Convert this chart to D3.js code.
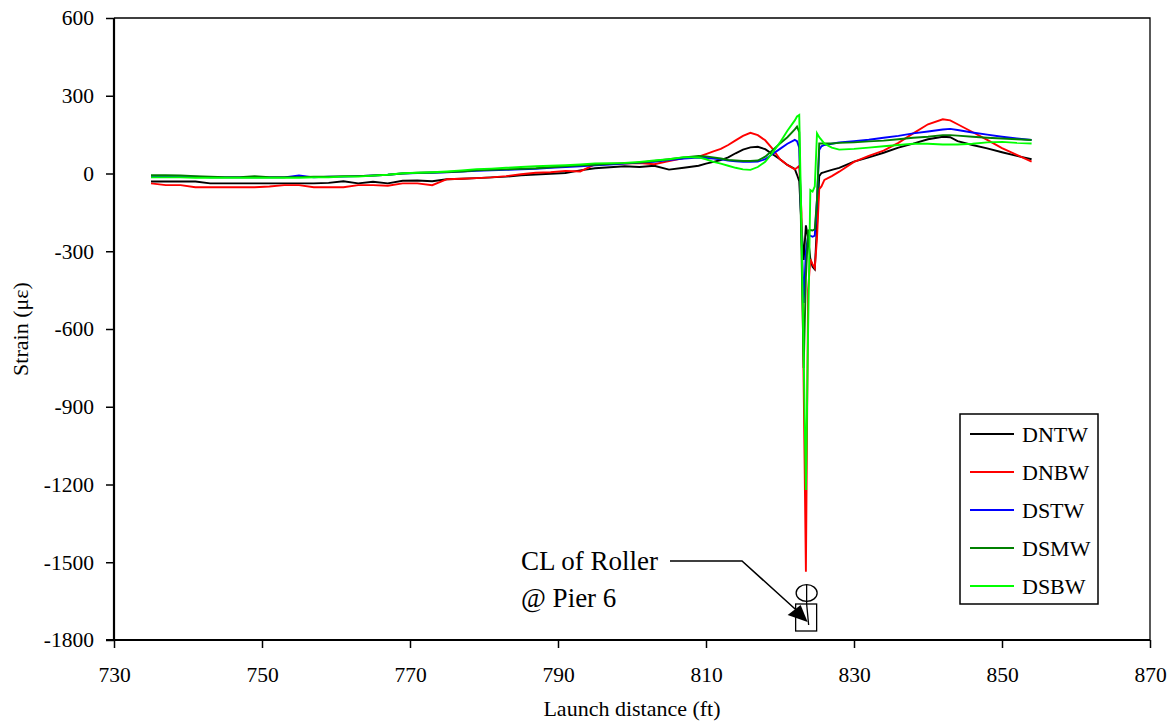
<!DOCTYPE html>
<html>
<head>
<meta charset="utf-8">
<script src="https://cdn.jsdelivr.net/npm/d3@7/dist/d3.min.js"></script>
<style>
  html, body { margin: 0; padding: 0; background: #fff; }
  svg { display: block; }
</style>
</head>
<body>
<svg id="chart" width="1176" height="723"></svg>
<script>
// ---------------- data ----------------
const launchDistance = [
  735,737,739,741,743,745,747,749,751,753,755,757,759,761,763,765,767,769,771,773,
  775,777,779,781,783,785,787,789,791,793,795,797,799,801,803,805,807,809,
  810,811,812,813,814,815,816,817,818,819,820,821,822,
  822.3,822.6,822.9,823.2,823.5,823.8,824.1,824.4,824.7,825.0,825.3,825.6,
  826,827,828,
  830,832,834,836,838,840,842,
  843,
  844,846,848,850,852,854
];

const DNTW = [
  -31,-31,-31,-31,-38,-38,-38,-38,-38,-38,-38,-38,-36,-30,-38,-32,-38,-28,-27,-30,
  -22,-20,-18,-15,-12,-7,-4,-1,2,12,20,24,28,25,30,15,22,30,
  38,45,52,62,78,92,101,103,94,74,55,33,18,
  -5,-30,-200,-334,-200,-250,-330,-360,-370,-200,-10,2,
  5,14,22,
  46,62,80,100,115,132,142,
  140,
  125,110,97,82,68,55
];

const DNBW = [
  -38,-45,-45,-53,-53,-53,-53,-53,-50,-45,-45,-53,-53,-53,-45,-45,-47,-38,-38,-45,
  -22,-20,-18,-15,-10,-3,3,5,10,8,35,36,38,40,36,48,60,65,
  75,85,95,110,128,145,157,148,128,95,55,33,16,
  22,29,-150,-820,-1537,-450,-330,-350,-365,-250,-60,-50,
  -25,-10,7,
  45,68,88,118,155,190,209,
  205,
  190,160,130,98,72,46
];

const DSTW = [
  -10,-10,-12,-12,-15,-15,-15,-15,-15,-15,-8,-15,-12,-12,-10,-8,-5,0,2,3,
  5,8,10,12,14,16,18,22,25,28,32,35,38,42,45,52,58,62,
  60,58,55,50,47,45,45,46,55,75,95,115,130,
  125,100,-230,-500,-300,-240,-240,-244,-240,-100,91,105,
  110,115,120,
  125,130,138,145,155,162,170,
  172,
  168,158,150,142,135,129
];

const DSMW = [
  -7,-7,-8,-10,-12,-14,-14,-10,-14,-14,-14,-12,-12,-10,-10,-8,-5,0,3,4,
  6,8,12,14,16,18,20,24,28,32,34,37,40,42,48,55,62,68,
  66,62,58,52,50,48,48,50,65,90,116,140,170,
  181,160,-300,-750,-400,-220,-218,-220,-215,-100,116,116,
  116,116,118,
  120,124,127,132,138,142,148,
  148,
  146,142,138,135,132,129
];

const DSBW = [
  -15,-15,-15,-17,-17,-17,-17,-17,-17,-17,-17,-15,-15,-12,-12,-8,-5,1,3,5,
  8,12,17,19,22,25,28,30,32,35,39,40,41,45,50,55,63,62,
  55,45,38,30,22,16,14,25,45,80,120,165,205,
  220,226,-200,-700,-1221,-600,-64,-70,-50,155,140,130,
  115,100,92,
  95,100,105,110,115,115,112,
  112,
  112,115,120,122,118,116
];

const seriesNames = ["DNTW", "DNBW", "DSTW", "DSMW", "DSBW"];
const seriesValues = [DNTW, DNBW, DSTW, DSMW, DSBW];
const seriesColors = ["#000000", "#ff0000", "#0000ff", "#008000", "#00ff00"];

const xTicks = [730, 750, 770, 790, 810, 830, 850, 870];
const yTicks = [600, 300, 0, -300, -600, -900, -1200, -1500, -1800];
const annotationLines = ["CL of Roller", "@ Pier 6"];
const rollerX = 823.6;   // ft, centre line of roller

// ---------------- layout ----------------
const FONT = "Liberation Serif";
const svg = d3.select("#chart");
const pL = 114, pR = 1150, pT = 18, pB = 640;

const x = d3.scaleLinear().domain([730, 870]).range([pL, pR]);
const y = d3.scaleLinear().domain([-1800, 600]).range([pB, pT]);

function txt(sel, size) {
  return sel.attr("font-family", FONT).style("font-family", FONT)
    .style("font-size", size + "px").attr("fill", "#000");
}

// frame (top / right)
svg.append("path")
  .attr("d", `M${pL},${pT}H${pR}V${pB}`)
  .attr("fill", "none").attr("stroke", "#000").attr("stroke-width", 1.3);

// axes
const yAxis = svg.append("g").attr("transform", `translate(${pL},0)`)
  .call(d3.axisLeft(y).tickValues(yTicks).tickFormat(d => String(d)).tickSize(8).tickPadding(12));
const xAxis = svg.append("g").attr("transform", `translate(0,${pB})`)
  .call(d3.axisBottom(x).tickValues(xTicks).tickFormat(d => String(d)).tickSize(8).tickPadding(18.5));

[yAxis, xAxis].forEach(g => {
  g.attr("font-family", FONT);
  g.select(".domain").attr("stroke", "#000").attr("stroke-width", 2.2);
  g.selectAll(".tick line").attr("stroke", "#000").attr("stroke-width", 1.5);
  txt(g.selectAll(".tick text"), 21.5);
});
yAxis.select(".domain").attr("d", `M0,${pT}V${pB}`);
xAxis.select(".domain").attr("d", `M${pL - 8},0H${pR}`);

// axis titles
txt(svg.append("text"), 22)
  .attr("x", (pL + pR) / 2).attr("y", 716)
  .attr("text-anchor", "middle")
  .text("Launch distance (ft)");
txt(svg.append("text"), 22)
  .attr("transform", `translate(28,${(pT + pB) / 2}) rotate(-90)`)
  .attr("text-anchor", "middle")
  .text("Strain (με)");

// series
const line = d3.line().x((d, i) => x(launchDistance[i])).y(d => y(d));
seriesValues.forEach((vals, k) => {
  svg.append("path")
    .datum(vals)
    .attr("d", line)
    .attr("fill", "none")
    .attr("stroke", seriesColors[k])
    .attr("stroke-width", 1.9)
    .attr("stroke-linejoin", "miter");
});

// legend
const lg = svg.append("g");
lg.append("rect").attr("x", 960).attr("y", 414).attr("width", 138).attr("height", 190)
  .attr("fill", "#fff").attr("stroke", "#000").attr("stroke-width", 1.5);
seriesNames.forEach((name, k) => {
  const yy = 434 + k * 38;
  lg.append("line").attr("x1", 970).attr("x2", 1014).attr("y1", yy).attr("y2", yy)
    .attr("stroke", seriesColors[k]).attr("stroke-width", 1.9);
  txt(lg.append("text"), 22).attr("x", 1022).attr("y", yy + 7.5).text(name);
});

// annotation
const ann = svg.append("g");
annotationLines.forEach((t, i) => {
  txt(ann.append("text"), 27).attr("x", 521).attr("y", 569.5 + i * 37).text(t);
});
const rx = x(rollerX);
// roller symbol
ann.append("ellipse").attr("cx", rx).attr("cy", 593).attr("rx", 10.5).attr("ry", 8.3)
  .attr("fill", "none").attr("stroke", "#000").attr("stroke-width", 1.3);
ann.append("line").attr("x1", rx).attr("x2", rx).attr("y1", 585).attr("y2", 604)
  .attr("stroke", "#000").attr("stroke-width", 1.3);
ann.append("rect").attr("x", rx - 11).attr("y", 604).attr("width", 21).attr("height", 27)
  .attr("fill", "#fff").attr("stroke", "#000").attr("stroke-width", 1.3);
ann.append("line").attr("x1", rx).attr("x2", rx + 2).attr("y1", 604).attr("y2", 625)
  .attr("stroke", "#000").attr("stroke-width", 1.3);
// leader with arrow
ann.append("path").attr("d", `M670,561H742L${rx - 6},${614}`)
  .attr("fill", "none").attr("stroke", "#000").attr("stroke-width", 1.5);
ann.append("path").attr("d", `M${rx + 1},${622}L${rx - 19},${615}L${rx - 6},${605}Z`)
  .attr("fill", "#000");
</script>
</body>
</html>
